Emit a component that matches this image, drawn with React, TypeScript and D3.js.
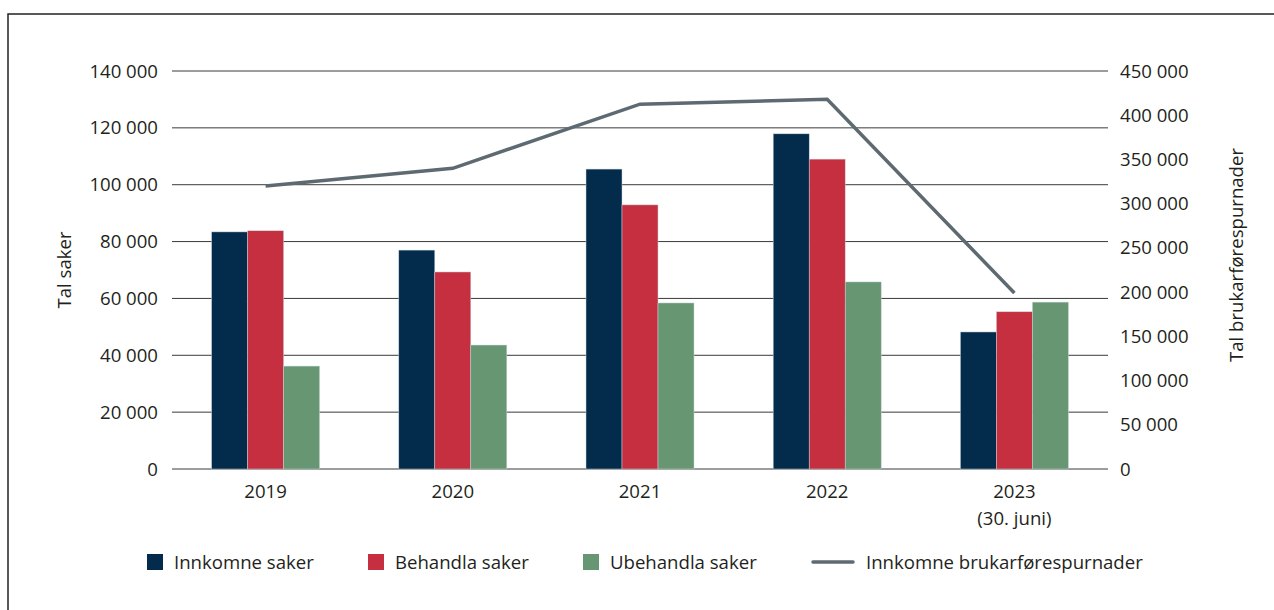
import React from 'react';
import * as d3 from 'd3';

// chart data
const years = ['2019', '2020', '2021', '2022', '2023'];
const yearSub = ['', '', '', '', '(30. juni)'];
const innkomne = [83400, 77000, 105500, 117900, 48200];
const behandla = [83800, 69300, 92900, 109000, 55300];
const ubehandla = [36200, 43600, 58400, 65800, 58700];
const brukar = [320000, 340000, 412500, 418000, 199000];
const leftTicks = [0, 20000, 40000, 60000, 80000, 100000, 120000, 140000];
const rightTicks = [0, 50000, 100000, 150000, 200000, 250000, 300000, 350000, 400000, 450000];

const seriesNames = ['Innkomne saker', 'Behandla saker', 'Ubehandla saker'];
const colors = ['#022b4c', '#c52f3f', '#679672'];
const lineColor = '#5e6a72';
const font = '"Open Sans", sans-serif';
const fs = 18.6;

const fmt = (v: number) => d3.format(',')(v).replace(/,/g, ' ');

const App = () => {
  const width = 1274;
  const height = 610;
  const margin = { left: 172, right: 166, top: 71, bottom: 141 };
  const innerW = width - margin.left - margin.right;
  const innerH = height - margin.top - margin.bottom;

  const x = d3.scaleBand().domain(years).range([0, innerW]);
  const xs = d3.scaleBand().domain(['0', '1', '2']).range([0, 108]);
  const yL = d3.scaleLinear().domain([0, 140000]).range([innerH, 0]);
  const yR = d3.scaleLinear().domain([0, 450000]).range([innerH, 0]);

  const series = [innkomne, behandla, ubehandla];

  const line = d3
    .line<number>()
    .x((d, i) => (x(years[i]) as number) + x.bandwidth() / 2)
    .y((d) => yR(d));

  return (
    <svg width={width} height={height} style={{ position: 'absolute', left: 0, top: 0 }} fontFamily={font}>
      <rect x={0} y={0} width={width} height={height} fill="#fff" />
      {/* frame */}
      <rect x={8} y={14} width={1400} height={800} fill="none" stroke="#222" strokeWidth={1.5} />
      <g transform={`translate(${margin.left},${margin.top})`}>
        {/* grid */}
        {leftTicks.map((t) => (
          <line key={t} x1={0} x2={innerW} y1={yL(t)} y2={yL(t)} stroke="#3a3a3a" strokeWidth={1} />
        ))}
        {/* left tick labels */}
        {leftTicks.map((t) => (
          <text key={'l' + t} x={-14} y={yL(t)} dy="0.35em" textAnchor="end" fontSize={fs} fill="#231f20">
            {fmt(t)}
          </text>
        ))}
        {/* right tick labels */}
        {rightTicks.map((t) => (
          <text key={'r' + t} x={innerW + 12} y={yR(t)} dy="0.35em" textAnchor="start" fontSize={fs} fill="#231f20">
            {fmt(t)}
          </text>
        ))}
        {/* bars */}
        {years.map((yr, i) => {
          const gx = (x(yr) as number) + x.bandwidth() / 2 - 54;
          return series.map((s, k) => (
            <rect
              key={yr + k}
              x={gx + (xs(String(k)) as number)}
              y={yL(s[i])}
              width={xs.bandwidth()}
              height={innerH - yL(s[i])}
              fill={colors[k]}
              stroke="#c9d2d8"
              strokeWidth={0.5}
            />
          ));
        })}
        {/* line */}
        <path d={line(brukar) as string} fill="none" stroke={lineColor} strokeWidth={3.5} strokeLinejoin="miter" />
        {/* x labels */}
        {years.map((yr, i) => (
          <g key={'x' + yr}>
            <text x={(x(yr) as number) + x.bandwidth() / 2} y={innerH + 29} textAnchor="middle" fontSize={fs} fill="#231f20">
              {yr}
            </text>
            {yearSub[i] && (
              <text x={(x(yr) as number) + x.bandwidth() / 2} y={innerH + 56} textAnchor="middle" fontSize={fs} fill="#231f20">
                {yearSub[i]}
              </text>
            )}
          </g>
        ))}
      </g>
      {/* axis titles */}
      <text transform="translate(71,270) rotate(-90)" textAnchor="middle" fontSize={fs} fill="#231f20">
        Tal saker
      </text>
      <text transform="translate(1243,255) rotate(-90)" textAnchor="middle" fontSize={fs} fill="#231f20">
        Tal brukarførespurnader
      </text>
      {/* legend */}
      <g transform="translate(0,562)" fontSize={fs} fill="#231f20">
        {seriesNames.map((n, k) => {
          const lx = [147, 368, 583][k];
          return (
            <g key={n}>
              <rect x={lx} y={-8} width={16} height={16} fill={colors[k]} />
              <text x={lx + 27} y={0} dy="0.35em">
                {n}
              </text>
            </g>
          );
        })}
        <line x1={813} x2={853} y1={0} y2={0} stroke={lineColor} strokeWidth={3.5} strokeLinecap="round" />
        <text x={866} y={0} dy="0.35em">
          Innkomne brukarførespurnader
        </text>
      </g>
    </svg>
  );
};

export default App;
